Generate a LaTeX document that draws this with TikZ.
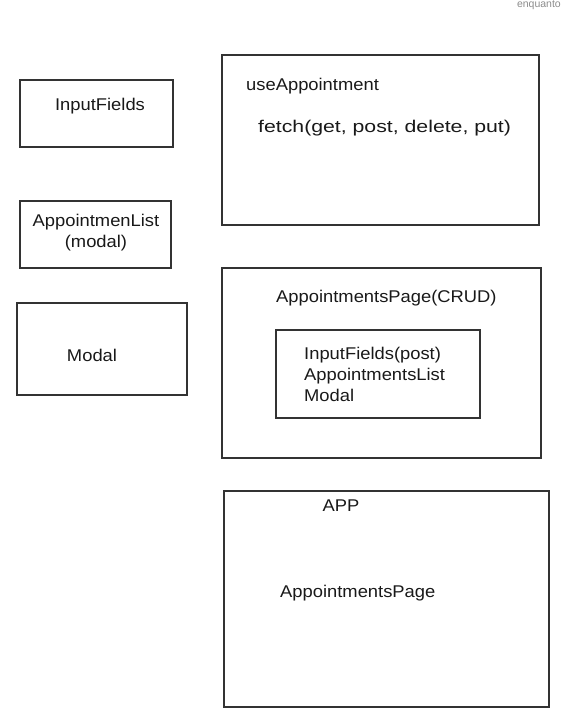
\documentclass[tikz,border=0pt]{standalone}
\usepackage{fontspec}
\setmainfont[FakeStretch=1.08]{Liberation Sans}
\newfontfamily\plainfont{Liberation Sans}
\newfontfamily\widefont[FakeStretch=1.25]{Liberation Sans}
\begin{document}
\begin{tikzpicture}[x=1pt,y=-1pt,
  sketch/.style={draw=black!80,line width=1.3pt},
  lbl/.style={font=\fontsize{17}{21}\selectfont,text=black!90,inner sep=0pt},
  note/.style={font=\plainfont\fontsize{10.5}{12}\selectfont,text=black!45,inner sep=0pt}]
\path[use as bounding box] (0,0) rectangle (562,717);
\node[note,anchor=base east] (enq) at (561,8) {enquanto};
% left column
\draw[sketch] (20,80) rectangle (173,147);
\node[lbl] (inf) at (100,106) {InputFields};
\draw[sketch] (20,201) rectangle (171,268);
\node[lbl,align=center] (al) at (96,233) {AppointmenList\\(modal)};
\draw[sketch] (17,303) rectangle (187,395);
\node[lbl] (mod) at (92,355) {Modal};
% useAppointment
\draw[sketch] (222,55) rectangle (539,225);
\node[lbl,anchor=west] (ua) at (246,86) {useAppointment};
\node[lbl,anchor=west,font=\widefont\fontsize{17}{21}\selectfont] (fe) at (258,128) {fetch(get, post, delete, put)};
% AppointmentsPage
\draw[sketch] (222,268) rectangle (541,458);
\node[lbl,anchor=west] (ap) at (276,298) {AppointmentsPage(CRUD)};
\draw[sketch] (276,330) rectangle (480,418);
\node[lbl,anchor=west,align=left] (apl) at (304,374) {InputFields(post)\\AppointmentsList\\Modal};
% APP
\draw[sketch] (224,491) rectangle (549,707);
\node[lbl] (app) at (341,506) {APP};
\node[lbl,anchor=west] (apg) at (280,593) {AppointmentsPage};
\end{tikzpicture}
\end{document}
